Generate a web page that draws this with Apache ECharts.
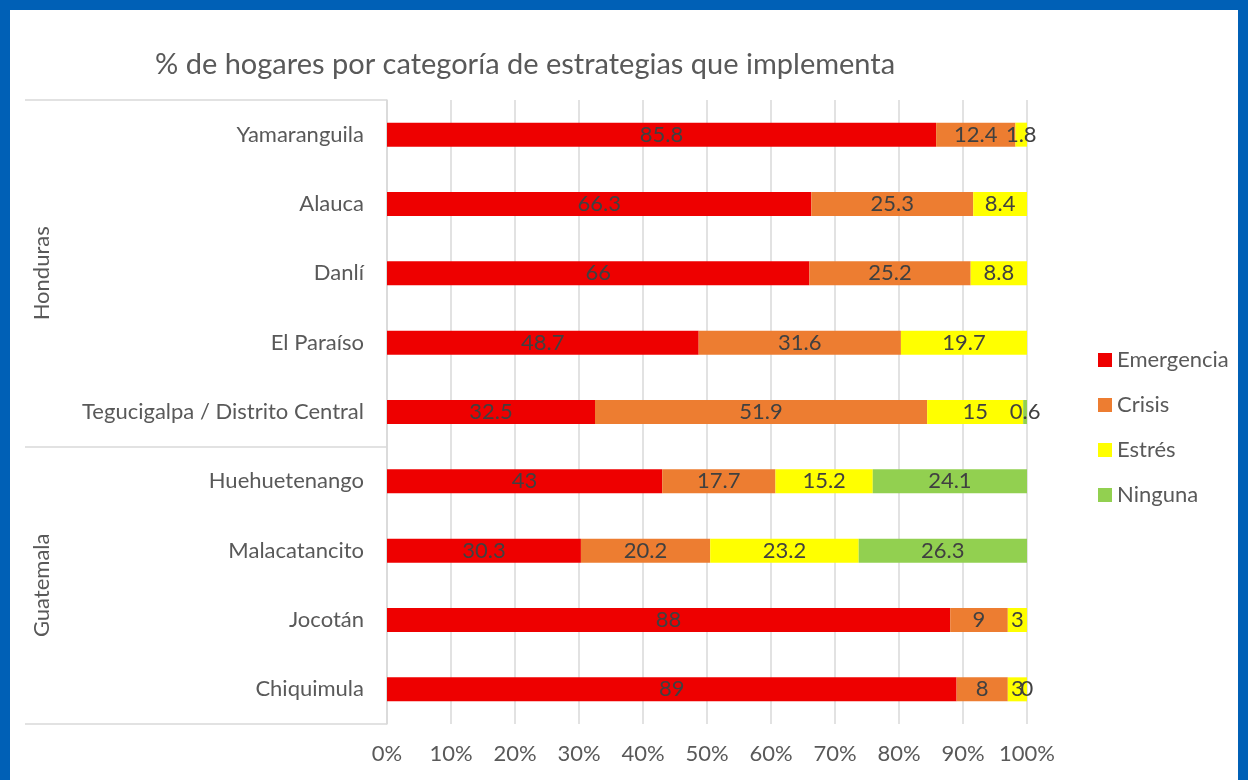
<!DOCTYPE html>
<html>
<head>
<meta charset="utf-8">
<style>
  html, body { margin: 0; padding: 0; background: #fff; }
  #chart { width: 1248px; height: 780px; }
  #frame { position: absolute; left: 0; top: 0; width: 1248px; height: 780px; box-sizing: border-box;
           border: 10px solid #0060B6; border-bottom: 0; pointer-events: none; }
</style>
<script src="https://cdn.jsdelivr.net/npm/echarts@6/dist/echarts.min.js"></script>
</head>
<body>
<div id="chart"></div>
<div id="frame"></div>
<script>
// municipios, de arriba hacia abajo
var categories = ['Yamaranguila', 'Alauca', 'Danlí', 'El Paraíso', 'Tegucigalpa / Distrito Central',
    'Huehuetenango', 'Malacatancito', 'Jocotán', 'Chiquimula'];
var emergencia = [85.8, 66.3, 66, 48.7, 32.5, 43, 30.3, 88, 89];
var crisis = [12.4, 25.3, 25.2, 31.6, 51.9, 17.7, 20.2, 9, 8];
var estres = [1.8, 8.4, 8.8, 19.7, 15, 15.2, 23.2, 3, 3];
var ninguna = [null, null, null, null, 0.6, 24.1, 26.3, null, 0];
// grupos (país) y en qué fila empieza cada uno
var groups = ['Honduras', 'Guatemala'];
var groupStart = [0, 5];
var xTicks = [0, 10, 20, 30, 40, 50, 60, 70, 80, 90, 100];

var FONT = 'Lato';
var FS = 22;
var myChart = echarts.init(document.getElementById('chart'));

function mkSeries(name, data, color) {
    return {
        name: name,
        type: 'bar',
        stack: 'total',
        barWidth: 24,
        data: data,
        itemStyle: { color: color },
        label: {
            show: true,
            position: 'inside',
            color: '#404040',
            fontFamily: FONT,
            fontSize: FS,
            textBorderWidth: 0
        }
    };
}

var option = {
    backgroundColor: '#fff',
    animation: false,
    title: {
        text: '% de hogares por categoría de estrategias que implementa',
        left: 155,
        top: 50,
        padding: 0,
        textStyle: { color: '#595959', fontFamily: FONT, fontSize: 29, fontWeight: 'normal' }
    },
    legend: {
        orient: 'vertical',
        left: 1098,
        top: 349,
        padding: 0,
        icon: 'rect',
        itemWidth: 14,
        itemHeight: 14,
        itemGap: 23,
        textStyle: { color: '#595959', fontFamily: FONT, fontSize: FS }
    },
    grid: { left: 387, right: 221, top: 100, bottom: 56 },
    xAxis: {
        type: 'value',
        min: xTicks[0],
        max: xTicks[xTicks.length - 1],
        interval: 10,
        axisLine: { show: false },
        axisTick: { show: false },
        splitLine: { lineStyle: { color: '#d9d9d9', width: 1.5 } },
        axisLabel: { formatter: '{value}%', color: '#595959', fontFamily: FONT, fontSize: FS, margin: 19 }
    },
    yAxis: {
        type: 'category',
        inverse: true,
        data: categories,
        axisLine: { lineStyle: { color: '#d9d9d9', width: 1.5 } },
        axisTick: {   // las líneas que separan los países
            show: true,
            length: 362,
            interval: function (index) { return groupStart.indexOf(index) >= 0; },
            lineStyle: { color: '#d9d9d9', width: 1.5 }
        },
        axisLabel: { color: '#595959', fontFamily: FONT, fontSize: FS, margin: 23 }
    },
    series: [
        mkSeries('Emergencia', emergencia, '#EE0000'),
        mkSeries('Crisis', crisis, '#ED7D31'),
        mkSeries('Estrés', estres, '#FFFF00'),
        mkSeries('Ninguna', ninguna, '#92D050')
    ]
};
myChart.setOption(option);

// nombres de país girados, centrados en su grupo de filas
var groupText = groups.map(function (g, i) {
    var first = groupStart[i];
    var last = (i + 1 < groupStart.length ? groupStart[i + 1] : categories.length) - 1;
    var y1 = myChart.convertToPixel({ yAxisIndex: 0 }, categories[first]);
    var y2 = myChart.convertToPixel({ yAxisIndex: 0 }, categories[last]);
    return {
        type: 'text',
        x: 42,
        y: (y1 + y2) / 2,
        rotation: Math.PI / 2,
        style: {
            text: g,
            fill: '#595959',
            font: FS + 'px ' + FONT,
            align: 'center',
            verticalAlign: 'middle'
        }
    };
});
myChart.setOption({ graphic: groupText });
</script>
</body>
</html>
